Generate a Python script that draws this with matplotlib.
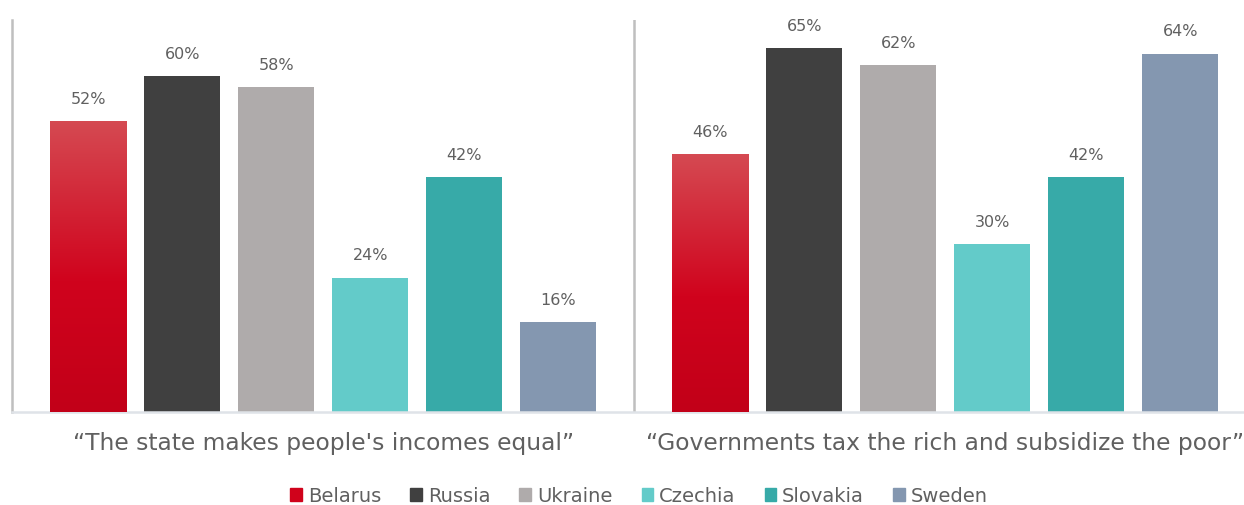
import matplotlib
matplotlib.use("Agg")
import matplotlib.pyplot as plt
import numpy as np
from matplotlib.colors import LinearSegmentedColormap
from matplotlib.patches import Patch

countries = ["Belarus", "Russia", "Ukraine", "Czechia", "Slovakia", "Sweden"]
statements = ["\u201cThe state makes people's incomes equal\u201d",
              "\u201cGovernments tax the rich and subsidize the poor\u201d"]
state_equal = [52, 60, 58, 24, 42, 16]
tax_rich = [46, 65, 62, 30, 42, 64]
colors = ["#d0021b", "#404040", "#afabab", "#63cbc9", "#37aaa8", "#8497b0"]

text_color = "#606060"
plt.rcParams["font.family"] = ["DejaVu Sans"]

fig = plt.figure(figsize=(12.44, 5.06), dpi=100)
# axes box in pixels: left 12, bottom 413, top 21, right edge of figure
ax = fig.add_axes([12 / 1244, 1 - 413 / 506, 1 - 12 / 1244, (413 - 21) / 506])

group_gap = 6.62
bar_w = 0.81
red_grad = LinearSegmentedColormap.from_list(
    "red_grad", [(0.0, "#c20018"), (0.45, "#d0031d"), (1.0, "#d54a52")])

for g, vals in enumerate([state_equal, tax_rich]):
    xs = g * group_gap + np.arange(len(countries)) - 2.5
    bars = ax.bar(xs, vals, width=bar_w, color=colors, zorder=2)
    for b, v in zip(bars, vals):
        ax.annotate(f"{v}%", (b.get_x() + b.get_width() / 2, v),
                    xytext=(0, 11), textcoords="offset points",
                    ha="center", va="bottom", fontsize=11.5, color=text_color)
    # Belarus bar gets a vertical gradient, lighter at the top
    b = bars[0]
    grad = np.linspace(0, 1, 256).reshape(-1, 1)
    im = ax.imshow(grad, cmap=red_grad, origin="lower", aspect="auto",
                   extent=[b.get_x(), b.get_x() + b.get_width(), 0, b.get_height()],
                   zorder=3)
    im.set_clip_path(b)

ax.set_ylim(0, 70)
ax.set_xlim(-3.31, -3.31 + (1244 - 12) / 94)

# divider between the two statements
ax.axvline(group_gap / 2, color="#bfbfbf", lw=1.8, zorder=1)

ax.set_xticks([0, group_gap])
ax.set_xticklabels(statements, fontsize=16.8, color=text_color)
ax.tick_params(axis="x", length=0, pad=14)
ax.set_yticks([])

for s in ["top", "right"]:
    ax.spines[s].set_visible(False)
ax.spines["left"].set_color("#bfbfbf")
ax.spines["left"].set_linewidth(1.8)
ax.spines["bottom"].set_color("#dfe3e8")
ax.spines["bottom"].set_linewidth(1.8)

handles = [Patch(color=c, label=n) for c, n in zip(colors, countries)]
fig.legend(handles=handles, loc="center", bbox_to_anchor=(639 / 1244, 1 - 497 / 506),
           ncol=6, frameon=False, fontsize=14, handlelength=0.6, handleheight=0.6,
           handletextpad=0.3, columnspacing=1.5, labelcolor=text_color)

fig.savefig("out.png", dpi=100)
